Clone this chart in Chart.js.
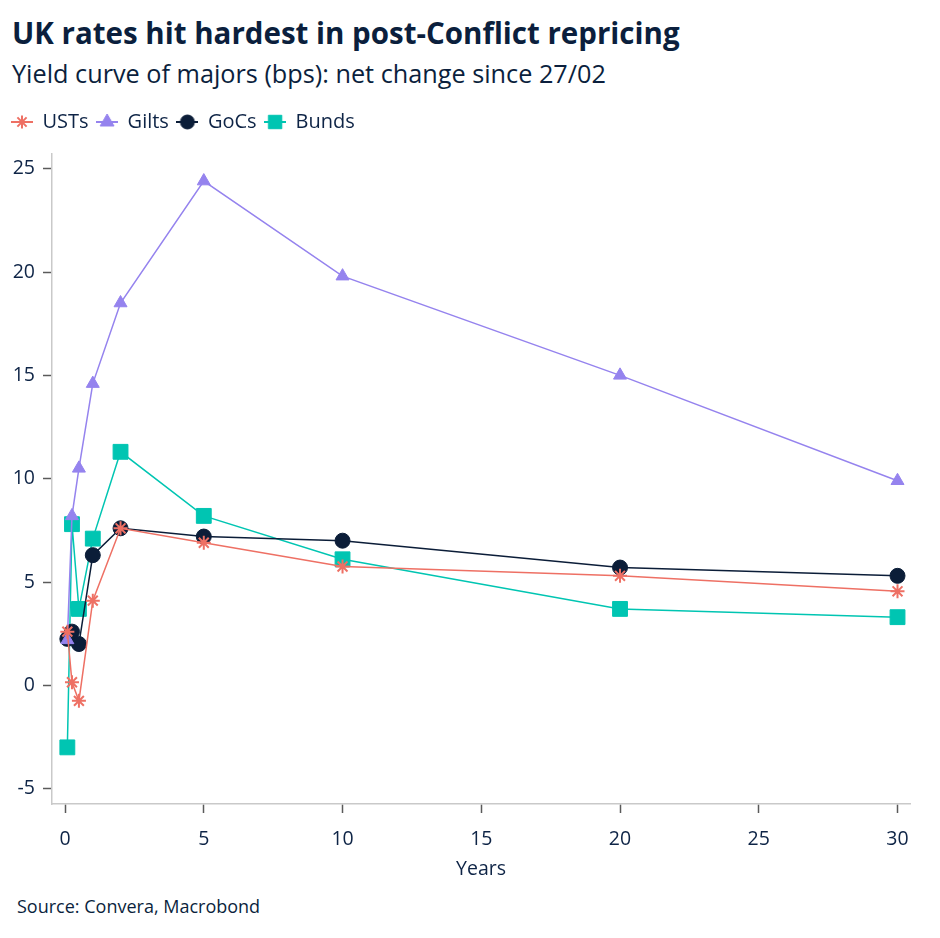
<!DOCTYPE html>
<html>
<head>
<meta charset="utf-8">
<title>UK rates hit hardest in post-Conflict repricing</title>
<script src="https://cdn.jsdelivr.net/npm/chart.js@4.4.1/dist/chart.umd.min.js"></script>
<style>
  html, body { margin: 0; padding: 0; background: #fff; }
  body {
    width: 940px; height: 938px; position: relative; overflow: hidden;
    font-family: "Open Sans", sans-serif; color: #0b1f3d;
  }
  .title { position: absolute; left: 12px; top: 12.5px; font-size: 29.5px; font-weight: 700; line-height: 40px; white-space: nowrap; }
  .subtitle { position: absolute; left: 12px; top: 56px; font-size: 25.25px; line-height: 34px; white-space: nowrap; }
  .source { position: absolute; left: 17px; top: 894px; font-size: 18px; line-height: 24px; white-space: nowrap; }
  .chart-container { position: absolute; left: 0; top: 104px; width: 940px; height: 780px; }
</style>
</head>
<body>
<div class="title">UK rates hit hardest in post-Conflict repricing</div>
<div class="subtitle">Yield curve of majors (bps): net change since 27/02</div>
<div class="chart-container"><canvas id="myChart"></canvas></div>
<div class="source">Source: Convera, Macrobond</div>

<script>
// maturities in years (1m, 3m, 6m, 1y, 2y, 5y, 10y, 20y, 30y)
const maturities = [0.083, 0.25, 0.5, 1, 2, 5, 10, 20, 30];

// net change since 27/02, bps
const usts  = [2.6, 0.15, -0.75, 4.1, 7.6, 6.9, 5.75, 5.3, 4.55];
const gilts = [2.2, 8.2, 10.5, 14.6, 18.5, 24.4, 19.8, 15.0, 9.9];
const gocs  = [2.25, 2.6, 2.0, 6.3, 7.6, 7.2, 7.0, 5.7, 5.3];
const bunds = [-3.0, 7.8, 3.7, 7.1, 11.3, 8.2, 6.1, 3.7, 3.3];

const seriesNames = ["USTs", "Gilts", "GoCs", "Bunds"];

const textColor = "#0e2446";
const colors = {
  USTs: "#ee7064",
  Gilts: "#9583ee",
  GoCs: "#0b1d38",
  Bunds: "#00c5b2",
};

// line + marker icons for the legend
function makeIcon(color, pointStyle, radius, borderWidth) {
  const c = document.createElement("canvas");
  c.width = 22;
  c.height = 20;
  const ctx = c.getContext("2d");
  ctx.strokeStyle = color;
  ctx.fillStyle = color;
  ctx.lineWidth = 2;
  ctx.beginPath();
  ctx.moveTo(0, 10);
  ctx.lineTo(22, 10);
  ctx.stroke();
  ctx.lineWidth = borderWidth;
  Chart.helpers.drawPoint(ctx, { pointStyle, radius, rotation: 0, borderWidth }, 11, 10);
  return c;
}

function toPoints(values) {
  return maturities.map((m, i) => ({ x: m, y: values[i] }));
}

const datasets = [
  {
    label: seriesNames[0],
    data: toPoints(usts),
    borderColor: colors.USTs,
    backgroundColor: colors.USTs,
    borderWidth: 1.5,
    pointStyle: "star",
    pointRadius: 7,
    pointBorderWidth: 2,
    order: 0,
  },
  {
    label: seriesNames[1],
    data: toPoints(gilts),
    borderColor: colors.Gilts,
    backgroundColor: colors.Gilts,
    borderWidth: 1.5,
    pointStyle: "triangle",
    pointRadius: 7.5,
    pointBorderWidth: 1,
    order: 1,
  },
  {
    label: seriesNames[2],
    data: toPoints(gocs),
    borderColor: colors.GoCs,
    backgroundColor: colors.GoCs,
    borderWidth: 1.5,
    pointStyle: "circle",
    pointRadius: 7.5,
    pointBorderWidth: 1,
    order: 2,
  },
  {
    label: seriesNames[3],
    data: toPoints(bunds),
    borderColor: colors.Bunds,
    backgroundColor: colors.Bunds,
    borderWidth: 1.5,
    pointStyle: "rect",
    pointRadius: 10.5,
    pointBorderWidth: 1,
    order: 3,
  },
];

const icons = [
  makeIcon(colors.USTs, "star", 6.5, 2),
  makeIcon(colors.Gilts, "triangle", 8, 1),
  makeIcon(colors.GoCs, "circle", 7, 1),
  makeIcon(colors.Bunds, "rect", 9.5, 1),
];

const ctx = document.getElementById("myChart").getContext("2d");
new Chart(ctx, {
  type: "line",
  data: { datasets },
  options: {
    responsive: true,
    maintainAspectRatio: false,
    animation: false,
    layout: { padding: { left: 3.5, right: 30, top: 0, bottom: 0 } },
    plugins: {
      tooltip: { enabled: false },
      legend: {
        position: "top",
        align: "start",
        labels: {
          usePointStyle: true,
          pointStyleWidth: 21,
          padding: 8,
          color: textColor,
          font: { family: "Open Sans", size: 20 },
          generateLabels(chart) {
            const items = Chart.defaults.plugins.legend.labels.generateLabels(chart);
            items.forEach((it) => { it.pointStyle = icons[it.datasetIndex]; });
            return items;
          },
        },
      },
    },
    scales: {
      x: {
        type: "linear",
        min: -0.47,
        max: 30.45,
        afterFit: (s) => { s.height = 80; },
        ticks: {
          stepSize: 5,
          includeBounds: false,
          padding: 15,
          color: textColor,
          font: { family: "Open Sans", size: 19.5 },
        },
        grid: { drawOnChartArea: false, tickLength: 9, tickColor: "#5a5a5a", tickWidth: 1.5 },
        border: { color: "#c9c9c9", width: 1.5 },
        title: {
          display: true,
          text: "Years",
          color: textColor,
          font: { family: "Open Sans", size: 19.5 },
          padding: { top: 0, bottom: 3 },
        },
      },
      // empty band between the legend and the plot
      gap: {
        type: "linear",
        position: "top",
        display: true,
        afterFit: (s) => { s.height = 12; },
        ticks: { display: false },
        grid: { display: false },
        border: { display: false },
      },
      y: {
        type: "linear",
        min: -5.74,
        max: 25.71,
        afterFit: (s) => { s.width = 48.5; },
        ticks: {
          stepSize: 5,
          includeBounds: false,
          padding: 8,
          color: textColor,
          font: { family: "Open Sans", size: 19.5 },
        },
        grid: { drawOnChartArea: false, tickLength: 9, tickColor: "#5a5a5a", tickWidth: 1.5 },
        border: { color: "#c9c9c9", width: 1.5 },
      },
    },
  },
});
</script>
</body>
</html>
